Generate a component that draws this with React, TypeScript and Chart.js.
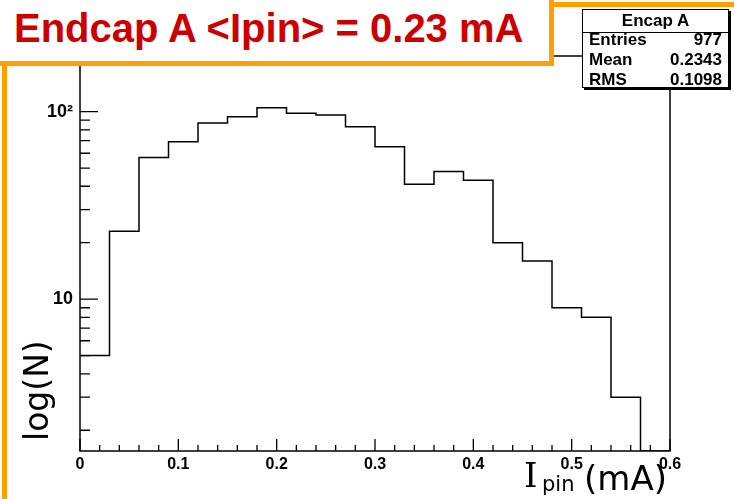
import React, { useEffect, useRef } from "react";
import { Chart, registerables } from "chart.js";

Chart.register(...registerables);

// ---- data ----
const BIN_EDGES = [0, 0.03, 0.06, 0.09, 0.12, 0.15, 0.18, 0.21, 0.24, 0.27, 0.3, 0.33, 0.36, 0.39, 0.42, 0.45, 0.48, 0.51, 0.54, 0.57, 0.6];
const COUNTS = [5, 23, 57, 69, 87, 94, 105, 98, 96, 83, 65, 41, 48, 43, 20, 16, 9, 8, 3, 0];
const X_MIN = 0;
const X_MAX = 0.6;
const X_TICK_STEP = 0.02;
const Y_MIN = 1.55;
const Y_MAX = 198;
const Y_TICKS = [2, 3, 4, 5, 6, 7, 8, 9, 10, 20, 30, 40, 50, 60, 70, 80, 90, 100];
const Y_TICK_LABELS: Record<number, string> = { 10: "10", 100: "10\u00B2" };
const TITLE = "Endcap A <Ipin> = 0.23 mA";
const STATS_NAME = "Encap A";
const STATS_ROWS: [string, string][] = [
  ["Entries", "977"],
  ["Mean", "0.2343"],
  ["RMS", "0.1098"],
];

const ORANGE = "#ff9f00";

const frameTicks = {
  id: "frameTicks",
  afterDatasetsDraw(chart: any) {
    const { ctx, chartArea: a, scales } = chart;
    const x = scales.x;
    const y = scales.y;
    ctx.save();
    ctx.strokeStyle = "#000";
    ctx.lineWidth = 1.5;
    ctx.strokeRect(a.left, a.top, a.right - a.left, a.bottom - a.top);
    ctx.lineWidth = 1.3;
    ctx.beginPath();
    for (const t of x.ticks) {
      const px = x.getPixelForValue(t.value);
      const major = Math.abs(t.value * 10 - Math.round(t.value * 10)) < 1e-6;
      const len = major ? 12 : 6;
      ctx.moveTo(px, a.bottom);
      ctx.lineTo(px, a.bottom - len);
    }
    for (const t of y.ticks) {
      const py = y.getPixelForValue(t.value);
      const len = Y_TICK_LABELS[t.value] ? 18 : 10;
      ctx.moveTo(a.left, py);
      ctx.lineTo(a.left + len, py);
    }
    ctx.stroke();
    ctx.restore();
  },
};

export default function App() {
  const canvasRef = useRef<HTMLCanvasElement | null>(null);

  useEffect(() => {
    const canvas = canvasRef.current;
    if (!canvas) return;
    const points = COUNTS.map((c, i) => ({ x: BIN_EDGES[i], y: c > 0 ? c : Y_MIN }));
    const last = points[points.length - 1];
    points.push({ x: BIN_EDGES[BIN_EDGES.length - 1], y: last.y });

    const chart = new Chart(canvas, {
      type: "line",
      data: {
        datasets: [
          {
            data: points,
            stepped: true,
            borderColor: "#000",
            borderWidth: 1.5,
            pointRadius: 0,
            fill: false,
            tension: 0,
          },
        ],
      },
      options: {
        responsive: false,
        animation: false,
        events: [],
        layout: { padding: { top: 56, right: 64, left: 0, bottom: 0 } },
        plugins: { legend: { display: false }, tooltip: { enabled: false }, title: { display: false } },
        scales: {
          x: {
            type: "linear",
            min: X_MIN,
            max: X_MAX,
            grid: { display: false, drawTicks: false },
            border: { display: false },
            afterFit: (s: any) => {
              s.height = 48;
            },
            ticks: {
              stepSize: X_TICK_STEP,
              autoSkip: false,
              maxRotation: 0,
              padding: 4,
              color: "#000",
              font: { family: "'Liberation Sans', Arial, sans-serif", size: 16, weight: "bold" },
              callback: (value: any) => {
                const v = Number(value);
                const r = Math.round(v * 10) / 10;
                if (Math.abs(v - r) > 1e-9) return "";
                return r === 0 ? "0" : r.toFixed(1);
              },
            },
          },
          y: {
            type: "logarithmic",
            min: Y_MIN,
            max: Y_MAX,
            grid: { display: false, drawTicks: false },
            border: { display: false },
            afterBuildTicks: (s: any) => {
              s.ticks = Y_TICKS.map((v) => ({ value: v }));
            },
            afterFit: (s: any) => {
              s.width = 80;
            },
            ticks: {
              autoSkip: false,
              padding: 7,
              color: "#000",
              font: { family: "'Liberation Sans', Arial, sans-serif", size: 18, weight: "bold" },
              callback: (value: any) => Y_TICK_LABELS[Number(value)] ?? "",
            },
          },
        },
      },
      plugins: [frameTicks],
    } as any);
    return () => chart.destroy();
  }, []);

  const comic = "'DejaVu Sans', 'Liberation Sans', sans-serif";
  const arial = "'Liberation Sans', Arial, sans-serif";

  return (
    <div
      style={{
        position: "fixed",
        left: 0,
        top: 0,
        width: 734,
        height: 499,
        background: "#fff",
        overflow: "hidden",
      }}
    >
      <canvas ref={canvasRef} width={734} height={499} style={{ display: "block", position: "absolute", left: 0, top: 0 }} />

      {/* outer orange slide frame */}
      <div
        style={{
          position: "absolute",
          left: 2,
          top: 2,
          width: 900,
          height: 900,
          borderLeft: `5px solid ${ORANGE}`,
          borderTop: `5px solid ${ORANGE}`,
          boxSizing: "border-box",
          pointerEvents: "none",
        }}
      />

      {/* title box */}
      <div
        style={{
          position: "absolute",
          left: -10,
          top: -10,
          width: 564,
          height: 76,
          background: "#fff",
          border: `5px solid ${ORANGE}`,
          boxSizing: "border-box",
        }}
      />
      <div
        style={{
          position: "absolute",
          left: 14,
          top: 8,
          fontFamily: arial,
          fontWeight: "bold",
          fontSize: 40,
          lineHeight: "40px",
          color: "#cc0000",
          whiteSpace: "pre",
        }}
      >
        {TITLE}
      </div>

      {/* stats box */}
      <div
        style={{
          position: "absolute",
          left: 582,
          top: 9,
          width: 147,
          height: 79,
          background: "#fff",
          border: "1px solid #000",
          boxShadow: "2px 2px 0 #000",
          boxSizing: "border-box",
          fontFamily: arial,
          fontWeight: "bold",
          fontSize: 17,
          color: "#000",
        }}
      >
        <div style={{ position: "absolute", left: 0, right: 0, top: 1, textAlign: "center", lineHeight: "20px" }}>
          {STATS_NAME}
        </div>
        <div style={{ position: "absolute", left: 0, right: 0, top: 22, height: 1, background: "#000" }} />
        {STATS_ROWS.map(([k, v], i) => (
          <div
            key={k}
            style={{
              position: "absolute",
              left: 6,
              right: 6,
              top: 20 + i * 20,
              lineHeight: "20px",
              display: "flex",
              justifyContent: "space-between",
            }}
          >
            <span>{k}</span>
            <span>{v}</span>
          </div>
        ))}
      </div>

      {/* y axis title */}
      <div
        style={{
          position: "absolute",
          left: 20,
          top: 441,
          transform: "rotate(-90deg)",
          transformOrigin: "0 0",
          fontFamily: comic,
          fontSize: 33,
          lineHeight: "33px",
          color: "#000",
          whiteSpace: "pre",
        }}
      >
        log(N)
      </div>

      {/* x axis title */}
      <div style={{ position: "absolute", left: 0, top: 0, fontFamily: comic, color: "#000", whiteSpace: "pre" }}>
        <span style={{ position: "absolute", left: 524, top: 458, fontSize: 34, lineHeight: "34px", fontFamily: "'DejaVu Serif', serif" }}>I</span>
        <span style={{ position: "absolute", left: 542, top: 474, fontSize: 21, lineHeight: "21px" }}>pin</span>
        <span style={{ position: "absolute", left: 584, top: 461, fontSize: 34, lineHeight: "34px" }}>(mA)</span>
      </div>
    </div>
  );
}
